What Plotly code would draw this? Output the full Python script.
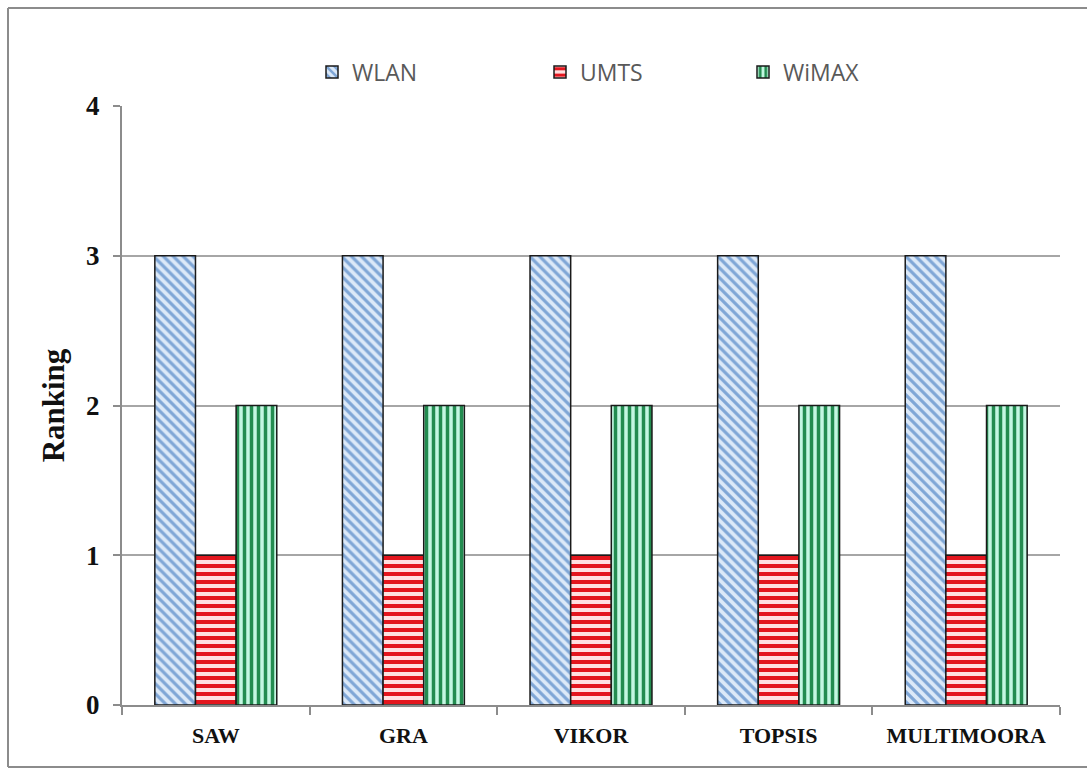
import plotly.graph_objects as go

categories = ["SAW", "GRA", "VIKOR", "TOPSIS", "MULTIMOORA"]
wlan = [3, 3, 3, 3, 3]
umts = [1, 1, 1, 1, 1]
wimax = [2, 2, 2, 2, 2]
y_ticks = [0, 1, 2, 3, 4]

W, H = 1087, 770
L, R, T, B = 122, 27, 106, 65
PW, PH = W - L - R, H - T - B

def px_x(p):
    return (p - L) / PW

def px_y(p):
    return 1 + (T - p) / PH

fig = go.Figure()
fig.add_trace(go.Bar(
    name="WLAN", x=categories, y=wlan, legend="legend",
    marker=dict(color="#dce9f8", line=dict(color="#1a1a1a", width=1.5),
                pattern=dict(shape="\\", fgcolor="#7fa6d6", bgcolor="#dce9f8",
                             size=7, solidity=0.45, fillmode="replace")),
))
fig.add_trace(go.Bar(
    name="UMTS", x=categories, y=umts, legend="legend2",
    marker=dict(color="#ffd6d6", line=dict(color="#1a1a1a", width=1.5),
                pattern=dict(shape="-", fgcolor="#e3161e", bgcolor="#ffe0e0",
                             size=8, solidity=0.5, fillmode="replace")),
))
fig.add_trace(go.Bar(
    name="WiMAX", x=categories, y=wimax, legend="legend3",
    marker=dict(color="#c4f7e2", line=dict(color="#1a1a1a", width=1.5),
                pattern=dict(shape="|", fgcolor="#238c50", bgcolor="#c4f7e2",
                             size=7, solidity=0.5, fillmode="replace")),
))

leg_font = dict(family="Open Sans, Liberation Sans, sans-serif", size=23, color="#595959")
def leg(xpx):
    return dict(orientation="h", x=px_x(xpx), y=px_y(72), xanchor="left", yanchor="middle",
                font=leg_font, itemwidth=30, bgcolor="rgba(0,0,0,0)")

border = dict(color="#8c8c8c", width=2)
def bline(x0, y0, x1, y1):
    return dict(type="line", xref="paper", yref="paper",
                x0=px_x(x0), y0=px_y(y0), x1=px_x(x1), y1=px_y(y1),
                line=border, layer="below")

serif = "Liberation Serif, Times New Roman, serif"
fig.update_layout(
    width=W, height=H,
    margin=dict(l=L, r=R, t=T, b=B, autoexpand=False),
    paper_bgcolor="white", plot_bgcolor="white",
    barmode="group", bargap=0.35, bargroupgap=0,
    showlegend=True,
    legend=leg(312), legend2=leg(540), legend3=leg(743),
    xaxis=dict(
        showline=True, linecolor="#8c8c8c", linewidth=2,
        ticks="outside", tickson="boundaries", ticklen=8, tickcolor="#8c8c8c", tickwidth=2,
        ticklabelstandoff=10,
        tickfont=dict(family=serif, size=22, color="#111111", weight="bold"),
        showgrid=False,
    ),
    yaxis=dict(
        range=[0, 4], tickvals=y_ticks,
        showline=True, linecolor="#8c8c8c", linewidth=2,
        ticks="outside", ticklen=7, tickcolor="#8c8c8c", tickwidth=2,
        ticklabelstandoff=8,
        showgrid=True, gridcolor="#a6a6a6", gridwidth=2,
        zeroline=False,
        tickfont=dict(family=serif, size=27, color="#111111", weight="bold"),
        title=dict(text="Ranking", standoff=12,
                   font=dict(family=serif, size=31, color="#111111", weight="bold")),
    ),
    shapes=[bline(8, 8, 1087, 8), bline(8, 8, 8, 767), bline(8, 767, 1087, 767)],
)

fig.write_html("out.html", config={"displayModeBar": False},
               post_script="document.body.style.margin='0px';document.body.style.overflow='hidden';")
